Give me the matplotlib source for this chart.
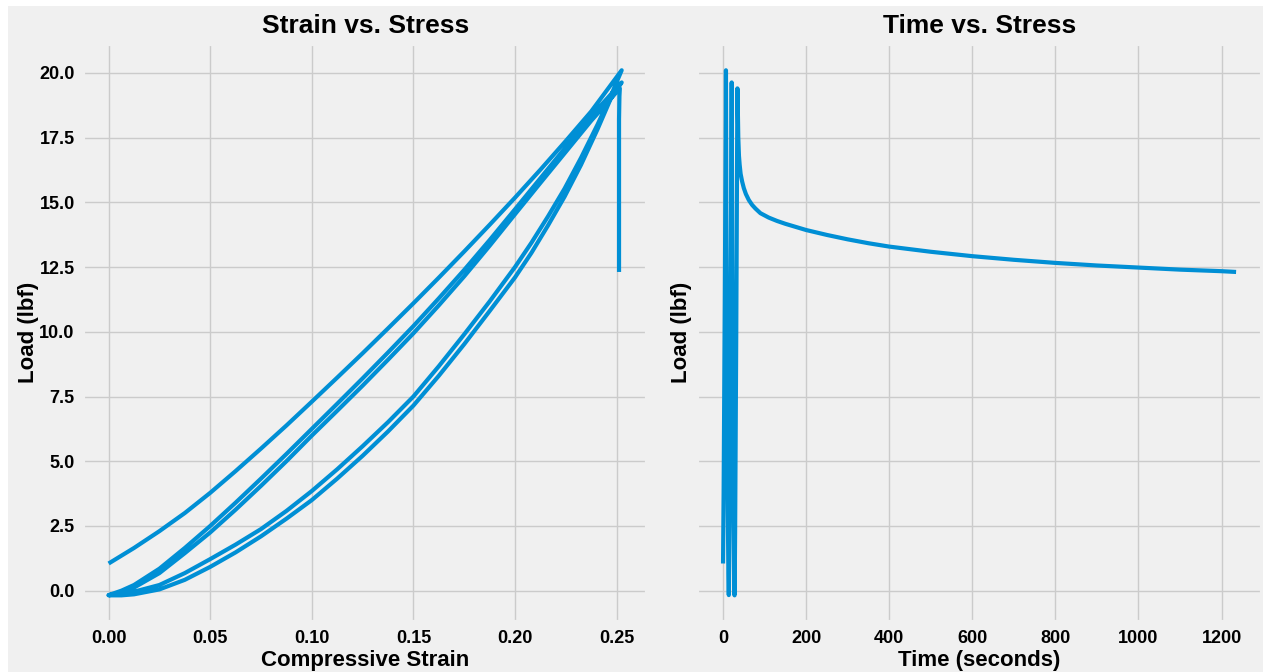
import matplotlib

matplotlib.use("Agg")
import matplotlib.pyplot as plt
from matplotlib.patches import Rectangle

# essai cyclique : 3 charges / 2 decharges puis maintien (relaxation)
# charge 1
load1_t = [0.0, 0.35, 0.7, 1.05, 1.4, 1.75, 2.1, 2.45, 2.8, 3.15, 3.5, 3.85, 4.2, 4.55,
           4.9, 5.25, 5.6, 5.95, 6.3, 6.65, 7.0]
load1_strain = [0.0, 0.0125, 0.025, 0.0375, 0.05, 0.0625, 0.075, 0.0875, 0.10, 0.1125,
                0.125, 0.1375, 0.15, 0.1625, 0.175, 0.1875, 0.20, 0.2125, 0.225, 0.2375,
                0.2525]
load1_lbf = [1.05, 1.65, 2.3, 3.0, 3.78, 4.62, 5.49, 6.38, 7.3, 8.23, 9.17, 10.13, 11.1,
             12.09, 13.1, 14.13, 15.18, 16.26, 17.37, 18.51, 20.1]

# decharge 1
unload1_t = [7.15, 7.32, 7.55, 7.77, 7.99, 8.21, 8.43, 8.77, 9.12, 9.46, 9.8, 10.14,
             10.48, 10.82, 11.16, 11.5, 11.84, 12.18, 12.53, 12.87, 13.21, 13.55, 13.73,
             13.9]
unload1_strain = [0.2471, 0.2406, 0.2325, 0.2244, 0.2162, 0.2081, 0.20, 0.1875, 0.175,
                  0.1625, 0.15, 0.1375, 0.125, 0.1125, 0.10, 0.0875, 0.075, 0.0625, 0.05,
                  0.0375, 0.025, 0.0125, 0.0063, 0.0]
unload1_lbf = [19.1, 18.0, 16.72, 15.53, 14.45, 13.44, 12.5, 11.17, 9.9, 8.67, 7.5, 6.51,
               5.58, 4.69, 3.85, 3.08, 2.38, 1.78, 1.22, 0.68, 0.22, -0.04, -0.13, -0.17]

# charge 2
load2_t = [14.07, 14.24, 14.58, 14.92, 15.27, 15.61, 15.95, 16.29, 16.63, 16.97, 17.31,
           17.65, 17.99, 18.34, 18.68, 19.02, 19.36, 19.7, 20.04, 20.38, 20.8]
load2_strain = [0.0063, 0.0125, 0.025, 0.0375, 0.05, 0.0625, 0.075, 0.0875, 0.10, 0.1125,
                0.125, 0.1375, 0.15, 0.1625, 0.175, 0.1875, 0.20, 0.2125, 0.225, 0.2375,
                0.2525]
load2_lbf = [0.0, 0.22, 0.85, 1.65, 2.5, 3.4, 4.33, 5.28, 6.25, 7.22, 8.2, 9.2, 10.22,
             11.29, 12.39, 13.54, 14.73, 15.93, 17.13, 18.33, 19.63]

# decharge 2
unload2_t = [20.95, 21.12, 21.35, 21.57, 21.79, 22.01, 22.23, 22.57, 22.92, 23.26, 23.6,
             23.94, 24.28, 24.62, 24.96, 25.3, 25.64, 25.98, 26.33, 26.67, 27.01, 27.35,
             27.53, 27.7]
unload2_strain = [0.2471, 0.2406, 0.2325, 0.2244, 0.2162, 0.2081, 0.20, 0.1875, 0.175,
                  0.1625, 0.15, 0.1375, 0.125, 0.1125, 0.10, 0.0875, 0.075, 0.0625, 0.05,
                  0.0375, 0.025, 0.0125, 0.0063, 0.0]
unload2_lbf = [19.0, 17.82, 16.45, 15.22, 14.1, 13.05, 12.1, 10.8, 9.52, 8.3, 7.15, 6.15,
               5.21, 4.33, 3.5, 2.78, 2.1, 1.48, 0.92, 0.42, 0.05, -0.14, -0.18, -0.18]

# charge 3
load3_t = [27.87, 28.04, 28.38, 28.72, 29.07, 29.41, 29.75, 30.09, 30.43, 30.77, 31.11,
           31.45, 31.79, 32.14, 32.48, 32.82, 33.16, 33.5, 33.84, 34.18, 34.6]
load3_strain = [0.0063, 0.0125, 0.025, 0.0375, 0.05, 0.0625, 0.075, 0.0875, 0.10, 0.1125,
                0.125, 0.1375, 0.15, 0.1625, 0.175, 0.1875, 0.20, 0.2125, 0.225, 0.2375,
                0.2516]
load3_lbf = [-0.08, 0.12, 0.68, 1.45, 2.25, 3.13, 4.05, 5.0, 5.99, 6.95, 7.92, 8.92, 9.94,
             11.02, 12.14, 13.32, 14.54, 15.75, 16.95, 18.15, 19.4]

# maintien a deformation constante
hold_t = [35.0, 35.5, 36.0, 36.7, 37.5, 38.3, 40.0, 42.3, 46.0, 50.0, 55.0, 62.0, 70.0,
          78.0, 90.0, 110.0, 130.0, 150.0, 175.0, 200.0, 250.0, 300.0, 350.0, 400.0,
          500.0, 600.0, 700.0, 800.0, 900.0, 1000.0, 1100.0, 1200.0, 1235.0]
hold_strain = [0.2514, 0.2513, 0.2512, 0.2512, 0.2512, 0.2512, 0.2512, 0.2512, 0.2512,
               0.2512, 0.2512, 0.2512, 0.2512, 0.2512, 0.2512, 0.2512, 0.2512, 0.2512,
               0.2512, 0.2512, 0.2512, 0.2512, 0.2512, 0.2512, 0.2512, 0.2512, 0.2512,
               0.2512, 0.2512, 0.2512, 0.2512, 0.2512, 0.2512]
hold_lbf = [19.1, 18.6, 18.2, 17.5, 17.1, 16.8, 16.45, 16.1, 15.8, 15.55, 15.32, 15.09,
            14.9, 14.76, 14.58, 14.41, 14.28, 14.17, 14.05, 13.93, 13.74, 13.57, 13.42,
            13.29, 13.09, 12.92, 12.78, 12.66, 12.56, 12.48, 12.4, 12.34, 12.31]

time_s = load1_t + unload1_t + load2_t + unload2_t + load3_t + hold_t
strain = load1_strain + unload1_strain + load2_strain + unload2_strain + load3_strain + hold_strain
load_lbf = load1_lbf + unload1_lbf + load2_lbf + unload2_lbf + load3_lbf + hold_lbf

plt.style.use("fivethirtyeight")
plt.rcParams["font.family"] = ["Liberation Sans", "DejaVu Sans"]
plt.rcParams["font.weight"] = "bold"
plt.rcParams["axes.labelweight"] = "bold"
plt.rcParams["axes.titleweight"] = "bold"

fig, (ax1, ax2) = plt.subplots(1, 2, sharey=True, figsize=(12.63, 6.72), dpi=100)
fig.set_facecolor("white")
fig.patches.append(Rectangle((8 / 1263, 0), 1, 1 - 6 / 672, transform=fig.transFigure,
                             facecolor="#f0f0f0", edgecolor="none", zorder=-10))
fig.subplots_adjust(left=0.0657, right=0.999, bottom=0.075, top=0.9345, wspace=0.0887)

blue = "#008fd5"
ax1.plot(strain, load_lbf, color=blue, lw=3)
ax1.set_title("Strain vs. Stress", fontsize=19, pad=8)
ax1.set_xlabel("Compressive Strain", fontsize=16, labelpad=2)
ax1.set_ylabel("Load (lbf)", fontsize=16, labelpad=0)

ax2.plot(time_s, load_lbf, color=blue, lw=3)
ax2.set_title("Time vs. Stress", fontsize=19, pad=8)
ax2.set_xlabel("Time (seconds)", fontsize=16, labelpad=2)
ax2.set_ylabel("Load (lbf)", fontsize=16, labelpad=4)

for ax in (ax1, ax2):
    ax.set_facecolor("#f0f0f0")
    ax.tick_params(labelsize=13, length=0, pad=6)
    for lab in ax.get_xticklabels() + ax.get_yticklabels():
        lab.set_fontweight("bold")
ax2.tick_params(labelleft=False)

fig.savefig("out.png", dpi=100, facecolor=fig.get_facecolor())
